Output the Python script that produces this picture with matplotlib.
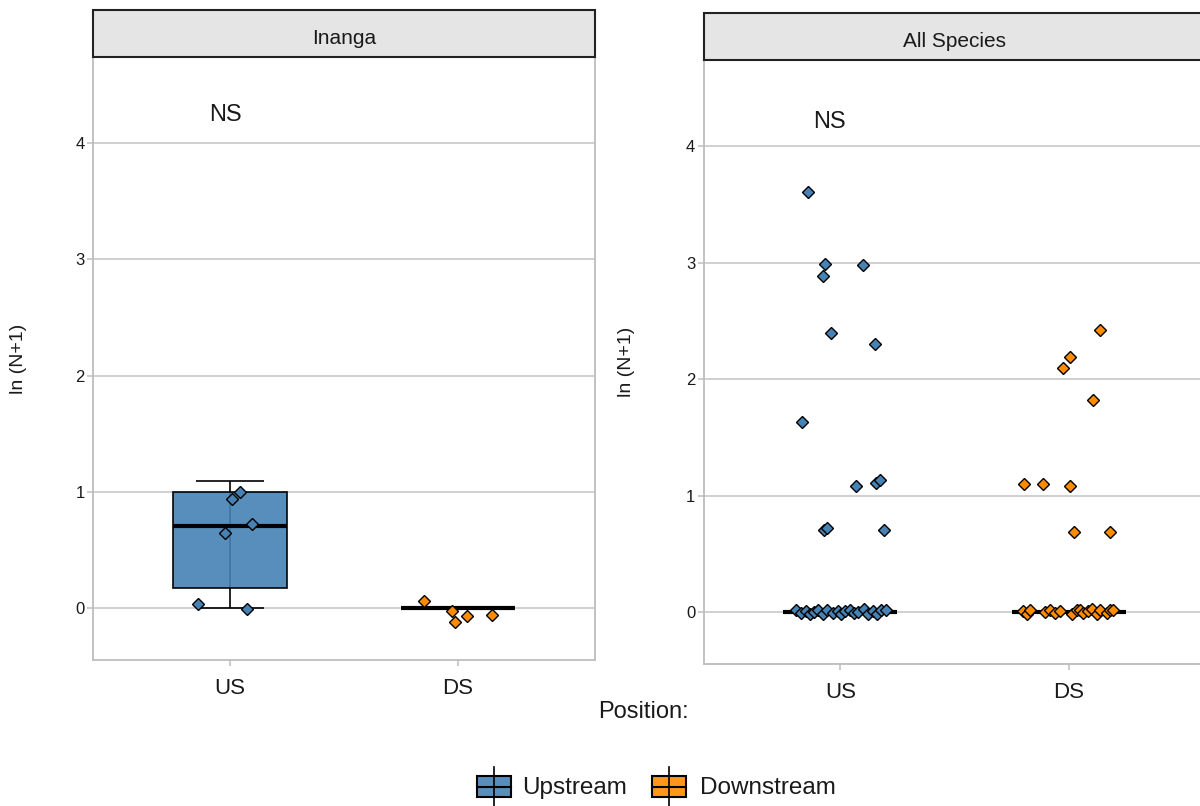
import matplotlib
matplotlib.use("Agg")
import matplotlib.pyplot as plt
from matplotlib.patches import Rectangle
from matplotlib.lines import Line2D

plt.rcParams["font.family"] = ["Liberation Sans", "DejaVu Sans"]

# ---- data -------------------------------------------------------------
panels = ["Inanga", "All Species"]
categories = ["US", "DS"]
legend_labels = ["Upstream", "Downstream"]
legend_title = "Position:"
y_label = "ln (N+1)"
y_ticks = [0, 1, 2, 3, 4]
annotation = "NS"

# box summaries per panel: [US, DS] -> (whisker_lo, q1, median, q3, whisker_hi)
inanga_box = [(0.0, 0.172, 0.705, 0.997, 1.092), (0.0, 0.0, 0.0, 0.0, 0.0)]
allsp_box = [(0.0, 0.0, 0.0, 0.0, 0.0), (0.0, 0.0, 0.0, 0.0, 0.0)]

# jittered observations (value, horizontal offset from category centre)
inanga_us_y = [0.034, -0.009, 0.65, 0.72, 0.94, 1.00]
inanga_us_dx = [-0.138, 0.077, -0.020, 0.095, 0.007, 0.046]
inanga_ds_y = [0.06, -0.026, -0.12, -0.07, -0.06]
inanga_ds_dx = [-0.149, -0.026, -0.013, 0.040, 0.149]

allsp_us_y = [3.61, 2.99, 2.89, 2.98, 2.40, 2.30, 1.63, 1.085, 1.11, 1.13,
              0.70, 0.72, 0.70,
              0.02, -0.01, 0.01, -0.02, 0.0, 0.015, -0.015, 0.02, -0.005,
              0.01, -0.02, 0.005, 0.02, -0.01, 0.0, 0.025, -0.015, 0.01,
              -0.02, 0.015, 0.02]
allsp_us_dx = [-0.143, -0.068, -0.077, 0.099, -0.042, 0.151, -0.169, 0.068,
               0.156, 0.173, -0.072, -0.059, 0.191,
               -0.195, -0.173, -0.151, -0.132, -0.115, -0.100, -0.078, -0.059,
               -0.034, -0.012, 0.002, 0.020, 0.043, 0.061, 0.078, 0.102,
               0.119, 0.141, 0.160, 0.178, 0.200]
allsp_ds_y = [2.42, 2.19, 2.10, 1.82, 1.10, 1.10, 1.085, 0.69, 0.69,
              0.01, -0.015, 0.02, 0.0, 0.02, -0.01, 0.005, -0.02, 0.015,
              0.02, -0.01, 0.01, 0.025, -0.015, 0.02, -0.005, 0.015, 0.02]
allsp_ds_dx = [0.136, 0.004, -0.026, 0.105, -0.197, -0.114, 0.004, 0.022, 0.180,
               -0.199, -0.184, -0.170, -0.104, -0.082, -0.060, -0.038, 0.013,
               0.035, 0.050, 0.064, 0.086, 0.101, 0.123, 0.137, 0.167, 0.181,
               0.196]

colors = ["#4682B4", "#FF8C00"]

# ---- figure -----------------------------------------------------------
W, H = 1200, 806
fig = plt.figure(figsize=(W / 100, H / 100), dpi=100)
fig.patch.set_facecolor("white")


def fx(px):
    return px / W


def fy(py):
    return 1 - py / H


GRID = "#C4C4C4"
BORDER = "#BDBDBD"
TXT = "#1A1A1A"


def draw_panel(ax, title, boxes, pts, ns_xy, strip_h):
    ax.set_xlim(0.4, 2.6)
    ax.set_ylim(-0.447, 4.742)
    ax.set_yticks(y_ticks)
    ax.set_xticks([1, 2])
    ax.set_xticklabels(categories)
    ax.grid(axis="y", color=GRID, lw=1.1, zorder=0)
    ax.grid(axis="x", visible=False)
    ax.set_axisbelow(True)
    for s in ax.spines.values():
        s.set_color(BORDER)
        s.set_linewidth(1.3)
    ax.tick_params(axis="both", color=BORDER, width=1.1, length=4)
    ax.tick_params(axis="y", labelsize=12, labelcolor=TXT, pad=2)
    ax.tick_params(axis="x", labelsize=16, labelcolor=TXT, pad=9)

    for i, (st, col) in enumerate(zip(boxes, colors)):
        x = i + 1
        lo, q1, med, q3, hi = st
        # error-bar style whisker with caps, drawn beneath the box
        ax.vlines(x, lo, hi, color="black", lw=1.2, zorder=2)
        ax.hlines([lo, hi], x - 0.15, x + 0.15, color="black", lw=1.2, zorder=2)
        ax.bxp([dict(whislo=lo, q1=q1, med=med, q3=q3, whishi=hi, fliers=[])],
               positions=[x], widths=0.5, patch_artist=True,
               showcaps=False, showfliers=False,
               boxprops=dict(facecolor=col, alpha=0.9, edgecolor="black", lw=1.3),
               whiskerprops=dict(lw=0), medianprops=dict(color="black", lw=3.0),
               manage_ticks=False, zorder=3)

    for i, ((ys, dxs), col) in enumerate(zip(pts, colors)):
        xs = [i + 1 + d for d in dxs]
        ax.plot(xs, ys, ls="none", marker="D", ms=6.6, mfc=col, mec="black",
                mew=1.0, zorder=5)

    ax.text(ns_xy[0], ns_xy[1], annotation, ha="center", va="center",
            fontsize=17, color=TXT, zorder=6)

    ax.add_patch(Rectangle((0, 1), 1, strip_h, transform=ax.transAxes,
                           facecolor="#E5E5E5", edgecolor="#222222", lw=1.5,
                           clip_on=False, zorder=10))
    ax.text(0.5, 1 + strip_h * 0.44, title, transform=ax.transAxes, ha="center",
            va="center_baseline", fontsize=15, color=TXT, zorder=11)
    ax.set_ylabel(y_label, fontsize=14, color=TXT)


axL = fig.add_axes([fx(93), fy(660), 502 / W, 603 / H])
axR = fig.add_axes([fx(703.5), fy(664), 502 / W, 604 / H])

draw_panel(axL, panels[0], inanga_box,
           [(inanga_us_y, inanga_us_dx), (inanga_ds_y, inanga_ds_dx)],
           (0.98, 4.24), 47 / 603)
draw_panel(axR, panels[1], allsp_box,
           [(allsp_us_y, allsp_us_dx), (allsp_ds_y, allsp_ds_dx)],
           (0.95, 4.21), 46.5 / 604)

axL.yaxis.set_label_coords(-(93 - 27) / 502, 0.5)
axR.yaxis.set_label_coords(-(703.5 - 635) / 502, 0.5)

# ---- legend -----------------------------------------------------------
fig.text(fx(598), fy(712), legend_title, ha="left", va="center",
         fontsize=17, color=TXT)

key_x = [477, 652]
text_x = [522, 700]
for kx, tx, col, lab in zip(key_x, text_x, colors, legend_labels):
    cx = kx + 17
    fig.add_artist(Line2D([fx(cx), fx(cx)], [fy(767), fy(810)],
                          transform=fig.transFigure, color="black", lw=1.2))
    fig.add_artist(Rectangle((fx(kx), fy(797)), 34 / W, 21 / H,
                             transform=fig.transFigure, facecolor=col,
                             alpha=0.9, edgecolor="none"))
    fig.add_artist(Rectangle((fx(kx), fy(797)), 34 / W, 21 / H,
                             transform=fig.transFigure, facecolor="none",
                             edgecolor="black", lw=1.5))
    fig.add_artist(Line2D([fx(kx), fx(kx + 34)], [fy(787), fy(787)],
                          transform=fig.transFigure, color="black", lw=1.5))
    fig.text(fx(tx), fy(788), lab, ha="left", va="center", fontsize=17.5,
             color=TXT)

fig.savefig("out.png", dpi=100, facecolor="white")
